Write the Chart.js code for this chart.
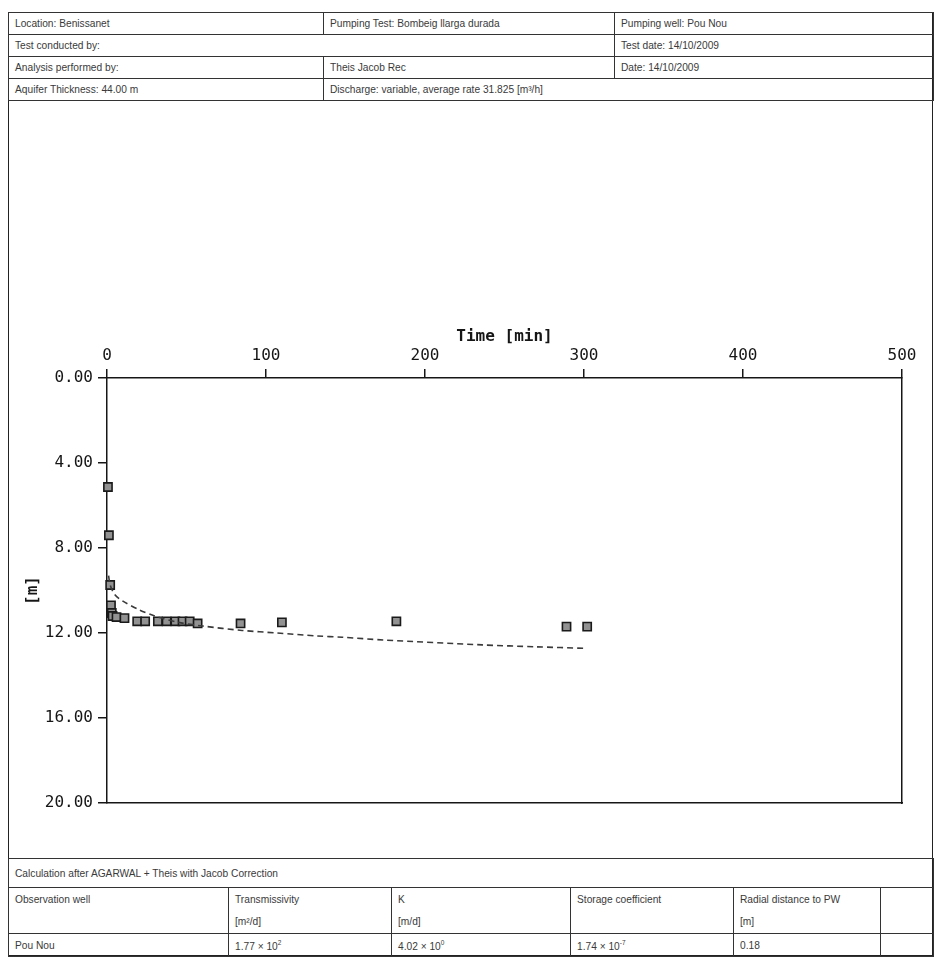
<!DOCTYPE html>
<html>
<head>
<meta charset="utf-8">
<script src="https://cdn.jsdelivr.net/npm/chart.js@4/dist/chart.umd.min.js"></script>
<style>
  html, body { margin:0; padding:0; background:#fff; }
  body { width:943px; height:970px; position:relative; overflow:hidden; font-family:"Liberation Sans", Arial, sans-serif; }
  .frame { position:absolute; left:8px; top:12px; width:925px; height:944px; border:1.5px solid #222; box-sizing:border-box; }
  table.t { position:absolute; border-collapse:collapse; table-layout:fixed; font-size:10.2px; color:#3a3a3a; }
  table.t td { border:1.5px solid #333; padding:0 0 0 6px; white-space:nowrap; overflow:hidden; vertical-align:middle; }
  table.t td.two { vertical-align:top; line-height:22px; padding-top:1px; }
  sup { font-size:6.5px; vertical-align:5px; }
  #wrap { position:absolute; left:0; top:300px; width:943px; height:558px; }
</style>
</head>
<body>
<div class="frame"></div>
<table class="t" style="left:8px; top:12px; width:925px;">
  <colgroup><col style="width:315px"><col style="width:291px"><col style="width:319px"></colgroup>
  <tr style="height:22px"><td>Location: Benissanet</td><td>Pumping Test: Bombeig llarga durada</td><td>Pumping well: Pou Nou</td></tr>
  <tr style="height:22px"><td colspan="2">Test conducted by:</td><td>Test date: 14/10/2009</td></tr>
  <tr style="height:22px"><td>Analysis performed by:</td><td>Theis Jacob Rec</td><td>Date: 14/10/2009</td></tr>
  <tr style="height:22px"><td>Aquifer Thickness: 44.00 m</td><td colspan="2">Discharge: variable, average rate 31.825 [m³/h]</td></tr>
</table>

<div id="wrap"><canvas id="c" width="943" height="558"></canvas></div>

<table class="t" style="left:8px; top:858px; width:925px;">
  <colgroup><col style="width:220px"><col style="width:163px"><col style="width:179px"><col style="width:163px"><col style="width:147px"><col style="width:53px"></colgroup>
  <tr style="height:29px"><td colspan="6">Calculation after AGARWAL + Theis with Jacob Correction</td></tr>
  <tr style="height:45px"><td class="two">Observation well</td><td class="two">Transmissivity<br>[m²/d]</td><td class="two">K<br>[m/d]</td><td class="two">Storage coefficient</td><td class="two">Radial distance to PW<br>[m]</td><td></td></tr>
  <tr style="height:23px"><td>Pou Nou</td><td>1.77 × 10<sup>2</sup></td><td>4.02 × 10<sup>0</sup></td><td>1.74 × 10<sup>-7</sup></td><td>0.18</td><td></td></tr>
</table>

<script>
// Observed drawdown: time [min] and drawdown [m]
const obsTime = [0.6, 1.2, 2, 2.5, 3, 3.5, 6, 11, 19, 24, 32, 37.5, 43, 47.5, 52, 57, 84, 110, 182, 289, 302];
const obsDrawdown = [5.13, 7.4, 9.74, 10.7, 11.06, 11.2, 11.25, 11.3, 11.45, 11.45, 11.45, 11.45, 11.45, 11.45, 11.45, 11.55, 11.55, 11.5, 11.45, 11.7, 11.7];
// Fitted Theis–Jacob curve
const fitTime = [1, 2, 5, 10, 20, 30, 45, 60, 85, 107, 132, 148, 174, 236, 270, 300];
const fitDrawdown = [9.3, 9.74, 10.2, 10.5, 10.9, 11.2, 11.5, 11.67, 11.88, 12.0, 12.14, 12.2, 12.33, 12.56, 12.65, 12.72];
// Axis ranges / ticks
const xRange = [0, 500], xStep = 100;
const yRange = [0, 20], yStep = 4;

const obsPts = obsTime.map((t, i) => ({x: t, y: obsDrawdown[i]}));
const fitPts = fitTime.map((t, i) => ({x: t, y: fitDrawdown[i]}));

const tickFont = {family: "'DejaVu Sans Mono', monospace", size: 16};
const ink = '#161616';

new Chart(document.getElementById('c'), {
  type: 'scatter',
  data: {
    datasets: [
      {
        label: 'fit', data: fitPts, showLine: true, pointRadius: 0,
        borderColor: '#3a3a3a', borderWidth: 1.6, borderDash: [6, 4], tension: 0.3, clip: false
      },
      {
        label: 'observed', data: obsPts, pointStyle: 'rect', pointRadius: 5.8,
        backgroundColor: '#929292', borderColor: '#1a1a1a', borderWidth: 1.6, clip: false
      }
    ]
  },
  options: {
    responsive: false, animation: false,
    layout: {padding: {left: 0, top: 0, right: 41, bottom: 55}},
    plugins: {legend: {display: false}, tooltip: {enabled: false}},
    scales: {
      x: {
        type: 'linear', position: 'top', min: xRange[0], max: xRange[1],
        ticks: {stepSize: xStep, font: tickFont, color: ink, padding: 4, maxRotation: 0},
        grid: {drawOnChartArea: false, drawTicks: true, tickLength: 9, color: ink, lineWidth: 1.5},
        border: {display: true, color: ink, width: 1.5},
        title: {display: true, text: 'Time [min]', font: {family: "'DejaVu Sans Mono', monospace", size: 16, weight: 'bold'}, color: ink, padding: {top: 27, bottom: 0}},
        afterFit: s => { s.height = 78; }
      },
      x2: {
        type: 'linear', position: 'bottom', min: xRange[0], max: xRange[1], display: true,
        ticks: {display: false}, grid: {display: false, drawTicks: false},
        border: {display: true, color: ink, width: 1.5},
        afterFit: s => { s.height = 0; }
      },
      y: {
        type: 'linear', position: 'left', reverse: true, min: yRange[0], max: yRange[1],
        ticks: {stepSize: yStep, font: tickFont, color: ink, padding: 5, callback: v => Number(v).toFixed(2)},
        grid: {drawOnChartArea: false, drawTicks: true, tickLength: 9, color: ink, lineWidth: 1.5},
        border: {display: true, color: ink, width: 1.5},
        title: {display: true, text: '[m]', font: {family: "'DejaVu Sans Mono', monospace", size: 16, weight: 'bold'}, color: ink, padding: {top: 23, bottom: 0}},
        afterFit: s => { s.width = 107; }
      },
      y2: {
        type: 'linear', position: 'right', reverse: true, min: yRange[0], max: yRange[1], display: true,
        ticks: {display: false}, grid: {display: false, drawTicks: false},
        border: {display: true, color: ink, width: 1.5},
        afterFit: s => { s.width = 0; }
      }
    }
  }
});
</script>
</body>
</html>
